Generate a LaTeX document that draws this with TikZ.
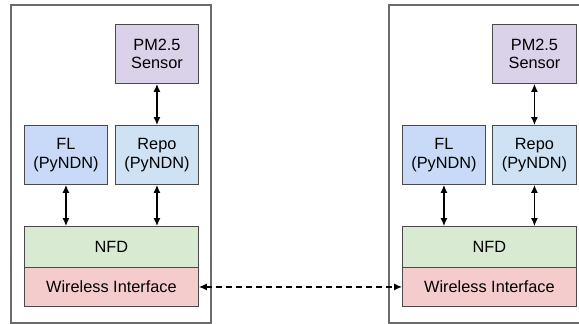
\documentclass[tikz,border=0pt]{standalone}
\usepackage{fontspec}
\setmainfont{Liberation Sans}
\usetikzlibrary{arrows.meta}
\definecolor{pmc}{HTML}{D9D2E9}
\definecolor{flc}{HTML}{C9DAF8}
\definecolor{repoc}{HTML}{CFE2F3}
\definecolor{nfdc}{HTML}{D9EAD3}
\definecolor{wic}{HTML}{F4CCCC}
\definecolor{outerc}{HTML}{6A6A6A}
\definecolor{boxc}{HTML}{4A4A4A}
\tikzset{
  blk/.style={draw=boxc, line width=0.9pt, align=center, font=\fontsize{16.3}{18.5}\selectfont, inner sep=0pt, anchor=north west},
  outer/.style={draw=outerc, line width=1.1pt},
  link/.style={{Latex[length=8pt,width=7pt]}-{Latex[length=8pt,width=7pt]}, line width=1.2pt, black},
}
\begin{document}
\begin{tikzpicture}[x=1pt,y=-1pt]
\useasboundingbox (0,0) rectangle (579,324);
% outer panels
\draw[outer] (11,5) rectangle (211,323);
\draw[outer] (585,5) -- (389,5) -- (389,323) -- (585,323);
% left panel
\node[blk, fill=pmc, minimum width=83pt, minimum height=59pt] (pmL) at (115,24) {PM2.5\\Sensor};
\node[blk, fill=flc, minimum width=83pt, minimum height=59pt] (flL) at (24,125) {FL\\(PyNDN)};
\node[blk, fill=repoc, minimum width=83pt, minimum height=59pt] (repoL) at (115,125) {Repo\\(PyNDN)};
\node[blk, fill=nfdc, minimum width=174pt, minimum height=41pt] (nfdL) at (24,226) {NFD};
\node[blk, fill=wic, minimum width=174pt, minimum height=39pt] (wiL) at (24,267) {Wireless Interface};
% right panel
\node[blk, fill=pmc, minimum width=84pt, minimum height=59pt] (pmR) at (492,24) {PM2.5\\Sensor};
\node[blk, fill=flc, minimum width=83pt, minimum height=59pt] (flR) at (402,125) {FL\\(PyNDN)};
\node[blk, fill=repoc, minimum width=84pt, minimum height=59pt] (repoR) at (492,125) {Repo\\(PyNDN)};
\node[blk, fill=nfdc, minimum width=174pt, minimum height=41pt] (nfdR) at (402,226) {NFD};
\node[blk, fill=wic, minimum width=174pt, minimum height=39pt] (wiR) at (402,267) {Wireless Interface};
% connectors
\draw[link] (pmL.south) -- (repoL.north);
\draw[link] (flL.south) -- (flL.south |- nfdL.north);
\draw[link] (repoL.south) -- (repoL.south |- nfdL.north);
\draw[link] (pmR.south) -- (repoR.north);
\draw[link] (flR.south) -- (flR.south |- nfdR.north);
\draw[link] (repoR.south) -- (repoR.south |- nfdR.north);
\draw[link, dashed, dash pattern=on 6pt off 4pt] (wiL.east) -- (wiR.west);
\end{tikzpicture}
\end{document}
